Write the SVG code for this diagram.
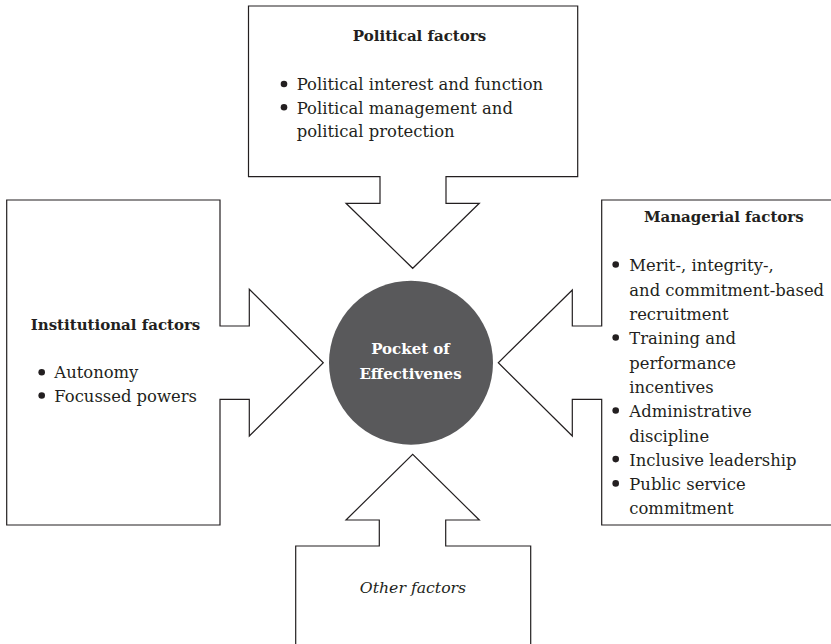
<svg xmlns="http://www.w3.org/2000/svg" width="831" height="644" viewBox="0 0 831 644">
<style>
.shape{fill:#fff;stroke:#231f20;stroke-width:1.2;stroke-linejoin:miter}
.t{font-family:"DejaVu Serif","Liberation Serif",serif;font-size:16.4px;fill:#231f20}
.h{font-family:"DejaVu Serif","Liberation Serif",serif;font-size:15px;font-weight:bold;fill:#231f20}
.i{font-family:"DejaVu Serif","Liberation Serif",serif;font-size:15.7px;font-style:italic;fill:#231f20}
.c{font-family:"DejaVu Serif","Liberation Serif",serif;font-size:15px;font-weight:bold;fill:#fff;text-anchor:middle}
.b{fill:#231f20}
</style>
<rect width="831" height="644" fill="#fff"/>
<g id="connectors">
<polygon id="political-arrow" class="shape" points="248.5,6 577.7,6 577.7,176.7 446,176.7 446,203.3 479.3,203.3 412.7,268.3 346,203.3 380,203.3 380,176.7 248.5,176.7"/>
<polygon id="institutional-arrow" class="shape" points="6.7,200 220,200 220,326 249.3,326 249.3,289.3 323.3,362.7 249.3,436 249.3,399.3 220,399.3 220,525 6.7,525"/>
<polygon id="managerial-arrow" class="shape" points="601.7,200 840,200 840,525 601.7,525 601.7,399.3 572.3,399.3 572.3,436 498.3,362.7 572.3,290 572.3,326 601.7,326"/>
<polygon id="other-arrow" class="shape" points="295.7,546 379.3,546 379.3,520 346,520 412.7,454.3 479.3,520 445.7,520 445.7,546 530.7,546 530.7,650 295.7,650"/>
</g>
<g id="political">
<text class="h" x="419.5" y="40.7" text-anchor="middle">Political factors</text>
<circle class="b" cx="284" cy="84" r="3.3"/>
<text class="t" x="296.7" y="90">Political interest and function</text>
<circle class="b" cx="284" cy="107.3" r="3.3"/>
<text class="t" x="296.7" y="113.7">Political management and</text>
<text class="t" x="296.7" y="137.3">political protection</text>
</g>
<g id="institutional">
<text class="h" x="115.5" y="330" text-anchor="middle">Institutional factors</text>
<circle class="b" cx="41.7" cy="372.3" r="3.3"/>
<text class="t" x="54.3" y="378.3">Autonomy</text>
<circle class="b" cx="41.7" cy="395.5" r="3.3"/>
<text class="t" x="54.3" y="401.7">Focussed powers</text>
</g>
<g id="managerial">
<text class="h" x="723.8" y="221.7" text-anchor="middle">Managerial factors</text>
<circle class="b" cx="615.7" cy="264.5" r="3.3"/>
<text class="t" x="629.3" y="271.2">Merit-, integrity-,</text>
<text class="t" x="629.3" y="295.5">and commitment-based</text>
<text class="t" x="629.3" y="319.8">recruitment</text>
<circle class="b" cx="615.7" cy="337.5" r="3.3"/>
<text class="t" x="629.3" y="344.2">Training and</text>
<text class="t" x="629.3" y="368.5">performance</text>
<text class="t" x="629.3" y="392.8">incentives</text>
<circle class="b" cx="615.7" cy="410.5" r="3.3"/>
<text class="t" x="629.3" y="417.2">Administrative</text>
<text class="t" x="629.3" y="441.5">discipline</text>
<circle class="b" cx="615.7" cy="459.1" r="3.3"/>
<text class="t" x="629.3" y="465.8">Inclusive leadership</text>
<circle class="b" cx="615.7" cy="483.4" r="3.3"/>
<text class="t" x="629.3" y="490.1">Public service</text>
<text class="t" x="629.3" y="514.4">commitment</text>
</g>
<g id="other">
<text class="i" x="413" y="593.3" text-anchor="middle">Other factors</text>
</g>
<g id="pocket">
<circle cx="411" cy="362.7" r="82" fill="#59595b"/>
<text class="c" x="410.5" y="354.3">Pocket of</text>
<text class="c" x="410.5" y="379.3">Effectivenes</text>
</g>
</svg>
